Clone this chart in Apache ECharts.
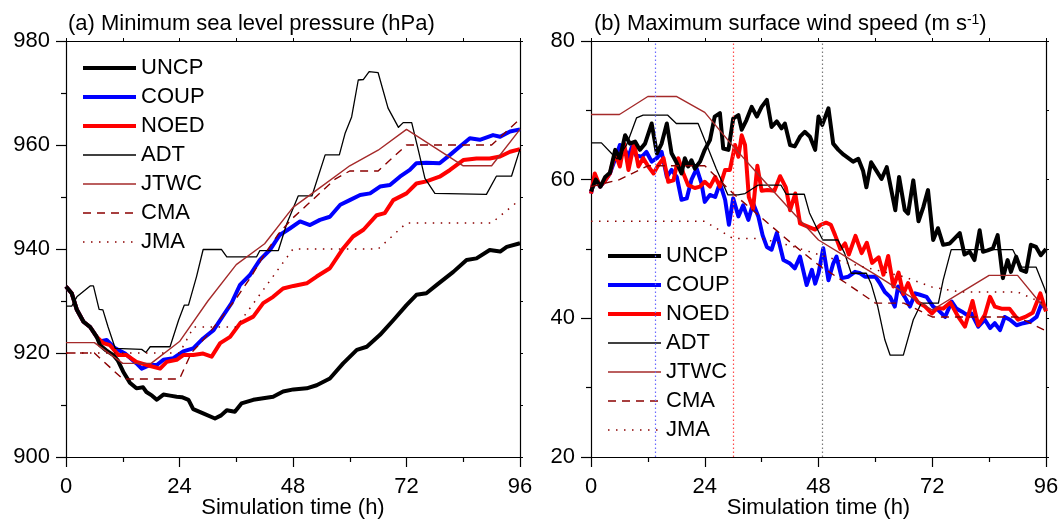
<!DOCTYPE html>
<html>
<head>
<meta charset="utf-8">
<script src="https://cdn.jsdelivr.net/npm/echarts@6/dist/echarts.min.js"></script>
<style>
html,body{margin:0;padding:0;background:#fff;}
#chart{width:1062px;height:522px;}
</style>
</head>
<body>
<div id="chart"></div>
<script>
// ---------------- DATA ----------------
const SERIES_NAMES = ['UNCP','COUP','NOED','ADT','JTWC','CMA','JMA'];
const X_TICKS = [0, 24, 48, 72, 96];
const PRES_TICKS = [900, 920, 940, 960, 980];
const WIND_TICKS = [20, 40, 60, 80];
const TITLE_A = '(a) Minimum sea level pressure (hPa)';
const TITLE_B_MAIN = '(b) Maximum surface wind speed (m s';
const TITLE_B_SUP = '-1';
const X_NAME = 'Simulation time (h)';
// vertical reference times in panel (b): COUP, NOED, UNCP
const VLINE_TIMES = [13.6, 30.0, 48.7];

// Panel (a): minimum sea level pressure (hPa), [hour, value]
const P_UNCP = [[0,932.8],[1.2,931.5],[2.3,928.3],[3.7,926],[5.1,925],[6.5,923.1],[7.2,921.5],[8.5,920.5],[10,919.6],[11,918.5],[12.1,916.4],[13.5,914.3],[14.9,913.2],[16.3,913.4],[17,912.5],[18.2,911.8],[19.2,911],[20.6,912],[22,911.8],[23.4,911.6],[24.5,911.5],[25.9,911],[26.9,909.2],[29,908.4],[31.5,907.4],[32.8,908],[34,909],[35.7,908.7],[37.1,910.3],[39.6,911],[41.7,911.3],[43.8,911.6],[45.9,912.6],[48.1,913],[50.9,913.2],[53,913.8],[55.8,915.1],[58.6,918],[61.5,920.6],[63.6,921.2],[66.4,923.5],[69.2,926.3],[72,929.2],[74.1,931.2],[76.2,931.5],[78.4,933.1],[81.9,935.6],[84.7,937.9],[86.8,938.2],[89.6,939.8],[91.8,939.5],[93.2,940.4],[96,941.1]];
const P_COUP = [[0,932.8],[1.2,931.5],[2.3,928.3],[3.7,926],[5.1,925],[6.5,923.1],[7.2,922.2],[8.6,922.5],[10.4,920.9],[12.5,919.9],[14.9,918],[16,917],[17.8,917.7],[19.2,917.7],[20.6,918.7],[22.7,919],[24.8,920.3],[26.9,920.9],[29,922.8],[31.2,924.4],[33.3,927.3],[35,929.6],[36.8,933.1],[38.9,935],[41,937.9],[43.1,939.8],[45.2,942.7],[47.4,944],[49.5,945.3],[51.6,944.6],[53.7,945.6],[55.8,946.2],[58,948.5],[60,949.4],[62.2,950.4],[64.3,950.7],[66.4,952],[68.5,952.3],[70.6,953.9],[72.7,955.2],[74.1,956.5],[76.2,956.6],[79,956.5],[81.2,958.1],[83.3,959.7],[85.4,961.3],[87.5,961],[90.3,961.9],[91.8,961.6],[93.9,962.6],[96,963]];
const P_NOED = [[0,932.8],[1.2,931.5],[2.3,928.3],[3.7,926],[5.1,925],[6.5,923.1],[7.9,921.9],[9.3,921.5],[11.1,919.6],[12.8,919.6],[14.9,918.3],[17,917.7],[19.9,917],[21.3,918.3],[23.4,918.7],[24.8,919.6],[26.9,919.6],[29,919.9],[30.8,919.3],[32.6,921.9],[34.7,923.1],[36.8,925.7],[39.6,927],[41.7,929.6],[43.8,930.8],[45.9,932.4],[48.1,932.9],[50.9,933.4],[53,934.7],[55.8,936.3],[58.6,940.1],[60.7,942.4],[62.9,943.7],[65.7,946.5],[67.4,946.9],[69.2,949.4],[72,950.7],[74.1,952.6],[76.2,953],[79,953.9],[81.2,955.2],[84,957.1],[86.8,957.4],[89.6,957.4],[91.8,957.8],[93.9,958.7],[96,959.2]];
const P_ADT = [[0,929],[1.2,929],[2.3,930.8],[5.1,932.9],[5.8,932.9],[7,928.4],[7.8,928.3],[8.9,925],[10.4,920.9],[16,920.7],[16.9,920.1],[17.8,921.2],[22,921.2],[23.8,926.3],[25,929.2],[25.9,929.2],[27.6,934.7],[29,939.9],[32.9,939.9],[34,938.5],[40.3,938.5],[41,939.7],[44.9,939.7],[46.7,944.9],[49.1,950.2],[52,950.2],[54.8,958.1],[57.8,958.1],[59,962.2],[60.4,965.4],[61.8,972.5],[62.9,972.6],[64.1,974.1],[66,973.9],[68.1,967.1],[70.3,963.4],[71.3,964.3],[73.1,964.3],[74.5,959],[75.9,953.6],[78,950.7],[88.9,950.5],[91,954],[94.2,954],[96,959.2]];
const P_JTWC = [[0,922],[6,922],[12,918],[18,918],[24,922.2],[30,930],[36,937],[42,941],[48,948],[54,952],[60,956],[66,959],[72,963],[78,959.5],[84,956],[90,956],[96,963]];
const P_CMA = [[0,920],[6,920],[12,915],[18,915],[24,915],[26.5,920],[30,923.5],[33,927],[36,930.5],[39,934.5],[42,939],[45,943],[48,946],[51,948.5],[54,951],[57,953.5],[60,955],[66,955],[72,960],[84,960],[90,960],[96,965]];
const P_JMA = [[0,920],[24,920],[27,925],[36,925],[48,940],[66,940],[72,945],[90,945],[96,949.5]];

// Panel (b): maximum surface wind speed (m/s), [hour, value]
const W_UNCP = [[0,58.3],[1,60],[2,59],[3,60.4],[4,61],[5.1,64.3],[6.1,63.1],[7.2,66.4],[8.2,65.2],[9.3,65.5],[10.3,64.3],[11.4,65.2],[12.8,68.1],[13.9,63.8],[14.9,65.2],[16,68.1],[17,63.8],[18.1,62.4],[19.1,60.9],[19.8,63.1],[20.5,61.9],[21.2,62.8],[21.9,61.6],[23,62.6],[24,64.3],[25.1,65.7],[26.1,69.1],[27.2,69.6],[27.9,64.5],[29,64.3],[30,68.8],[31.1,69.3],[31.8,67.2],[32.8,68.6],[33.9,70.5],[35,69.1],[36,70.5],[37.1,71.5],[38.1,67.6],[39.2,68.4],[40.2,67.4],[40.9,68.1],[42,65],[43,64.8],[44.1,66.2],[45.1,66.9],[46.2,66.2],[47.3,64.3],[48,69.1],[48.8,67.9],[50.1,70.3],[51.1,65.2],[52.2,64.3],[53.3,63.6],[54.3,63.1],[55.3,62.6],[56.4,63],[57.4,61.3],[58.1,58.9],[59.1,62.5],[60.2,61.3],[61.3,60.1],[62.4,61.8],[64.2,55.6],[65,60.4],[66.2,55.6],[66.9,55.1],[68,59.9],[69.1,54],[70.1,56],[71.1,58.5],[72.2,51.3],[73.2,53],[74.3,50.6],[75.7,50.8],[77.8,52.3],[78.8,49.2],[79.9,49.6],[80.9,48.4],[82,52.7],[82.7,49.6],[83.7,49.8],[84.8,50.1],[85.8,52],[86.9,45.8],[87.9,48.4],[88.6,46.7],[89.7,48.9],[90.7,47],[91.8,46.7],[92.8,50.6],[93.9,50.3],[94.9,49.1],[96,50]];
const W_COUP = [[0,58],[0.8,60.5],[1.9,59],[3,59.9],[4,60.9],[5.1,63],[6.1,65],[7,64.5],[7.9,63.3],[8.6,64.7],[9.5,63.5],[10.7,63.3],[11.7,64],[12.8,62.6],[13.9,63.1],[14.9,64],[16,60.4],[17,61.4],[18.1,60.4],[19.1,57.1],[20.2,57.3],[21.2,60],[22.3,61.6],[23.3,59.5],[24,56.8],[25.1,57.8],[26.2,57.5],[27.2,59.5],[28.3,57.1],[29.1,53.5],[30,57.3],[31.1,54.7],[32.1,56.3],[33.2,54.2],[34.2,56.6],[35.3,54.7],[36.2,52],[37.1,50.3],[38.1,49.9],[39.2,52.3],[40.6,48.4],[42,47.9],[43,47.2],[44.1,48.9],[45.5,44.8],[46.6,47],[47.3,45],[48,46.5],[49,50.1],[50.1,45.5],[51.1,47.9],[51.8,48.9],[52.9,45.8],[54.3,46],[55.7,46.7],[56.8,46.5],[57.8,46],[58.9,46],[60,46],[61,45],[62,43.8],[63.1,43.1],[64.1,41.7],[64.8,44.6],[66.2,43.1],[67.3,41.7],[68.4,43.6],[69.4,43.4],[70.8,43.1],[72.2,41.7],[73.3,41.2],[74.7,40.2],[76.1,42.4],[77.1,41.4],[78.2,41],[79.3,40.5],[80.3,40.7],[81.7,38.8],[83.1,39.8],[84.2,38.6],[85.2,39.3],[86.3,38.3],[87.3,40.2],[88.4,39.8],[89.8,39],[91.2,39.3],[92.6,39.5],[94,40.2],[95.1,42.2],[96,41.2]];
const W_NOED = [[0,58],[0.8,60.9],[1.9,59],[3,59.9],[4,60.9],[5.1,63.8],[6.1,61.9],[7,65.2],[7.9,61.4],[9.1,65.2],[10,61.9],[11,63.1],[12.1,61.9],[13.2,60.9],[14.2,62.1],[15.3,63.1],[16.3,59.7],[17.4,59.9],[18.4,63.1],[19.5,60.9],[20.5,59.2],[21.9,58.8],[23,59],[24,59.7],[25.1,59],[26.2,60.4],[27.2,59],[28.3,61.4],[29.3,61.4],[30.4,65],[31.1,63.3],[31.8,66.4],[32.5,65],[33.3,57.5],[34.2,55.8],[35.1,62],[36,58.4],[37.2,58.5],[38.7,58.4],[39.9,60.5],[41.1,58.9],[42,55.6],[43.1,58],[44.1,53.7],[45.5,53.3],[47.3,52.8],[48.5,53.5],[49.6,53.8],[50.6,53.5],[51.5,52],[52.6,50],[53.6,50.8],[54.4,49.2],[55.8,51.9],[57.1,49.4],[58.2,50.9],[59.3,48],[60.7,48.8],[61.7,46.3],[62.7,49],[63.8,44.6],[64.9,46.6],[65.9,43.5],[66.9,45.1],[67.8,43.5],[69,42.3],[70.5,41.7],[71.9,40.7],[73.1,41.5],[74.3,41.4],[75.8,42.3],[77.5,40.2],[78.9,38.8],[80.5,42.5],[81.7,39],[83.1,40.5],[84.2,43.1],[85.2,41.7],[86.6,41.4],[88.3,41.4],[90.1,39.8],[91.6,40.2],[93.2,40.8],[94.8,43.6],[96,41]];
const W_ADT = [[0,65.3],[2.2,65.3],[4.6,63.6],[5.5,63],[7.5,65],[9.6,68.9],[11,69.3],[16.2,69.3],[18,68.1],[22.6,68.1],[24.3,65.2],[26.4,61.6],[28.9,57.8],[31,57.8],[32.5,58],[35.2,59.2],[40.1,59.2],[41.2,57.9],[45,57.9],[46.1,55.2],[47.5,53.2],[48.9,51.3],[52.1,51.3],[53.5,49.4],[54.9,46.5],[58.1,46.5],[59.1,45],[60.5,41.7],[62,36.9],[63.1,34.7],[65.9,34.7],[68,39.8],[69.7,42.2],[73.3,42.2],[74.3,45.5],[76,49.9],[89,49.9],[90.8,47.4],[93.9,47.4],[95.7,44.3],[96,43.6]];
const W_JTWC = [[0,69.4],[6,69.4],[12,72],[18,72],[24,69.7],[30,64.8],[36,60.2],[42,55.7],[48,51.3],[54,48.8],[60,46.3],[66,43.7],[72,41.2],[78,43.7],[84,46.2],[90,46.2],[96,41.2]];
const W_CMA = [[0,59],[6,60],[12,62],[18,62],[24,62],[30,58],[36,54.5],[42,51],[48,47.7],[54,45],[60,42.2],[66,42.2],[72,40.2],[78,40.2],[84,40.2],[90,40.2],[96,38.2]];
const W_JMA = [[0,54],[24,54],[30,51.5],[36,51.5],[42,50.5],[48,49.2],[54,48],[60,47],[66,46],[72,44.5],[78,43.8],[90,43.8],[96,42]];

// ---------------- STYLE ----------------
const FONT = '"Liberation Sans", Arial, Helvetica, sans-serif';
const FS = 22;
const STYLE = {
  UNCP: {color:'#000000', width:4, type:'solid'},
  COUP: {color:'#0000ff', width:4, type:'solid'},
  NOED: {color:'#ff0000', width:4, type:'solid'},
  ADT:  {color:'#000000', width:1.3, type:'solid'},
  JTWC: {color:'#a52a2a', width:1.4, type:'solid'},
  CMA:  {color:'#8b0000', width:1.4, type:[8,6]},
  JMA:  {color:'#8b0000', width:1.5, type:[1.5,6.5]}
};
const VLINE_COLORS = ['#6a6aff', '#ff4a4a', '#7a7a7a'];
const PANEL_A = {UNCP:P_UNCP, COUP:P_COUP, NOED:P_NOED, ADT:P_ADT, JTWC:P_JTWC, CMA:P_CMA, JMA:P_JMA};
const PANEL_B = {UNCP:W_UNCP, COUP:W_COUP, NOED:W_NOED, ADT:W_ADT, JTWC:W_JTWC, CMA:W_CMA, JMA:W_JMA};

function lineSeries(name, data, idx) {
  const s = STYLE[name];
  return {
    name: name, type: 'line', xAxisIndex: idx, yAxisIndex: idx,
    data: data, symbol: 'none', showSymbol: false, smooth: false,
    color: s.color,
    lineStyle: {color: s.color, width: s.width, type: s.type, join: 'round', cap: 'butt'},
    itemStyle: {color: s.color},
    z: 3, silent: true, animation: false
  };
}

function bottomX(gi) {
  return {
    type:'value', gridIndex: gi, min: 0, max: 96, interval: 24, position:'bottom',
    name: X_NAME, nameLocation:'middle', nameGap: 40, nameMoveOverlap: false,
    nameTextStyle:{fontSize: FS, fontFamily: FONT, color:'#000'},
    axisLine:{show:true, onZero:false, lineStyle:{color:'#000', width:1.2}},
    axisTick:{show:true, inside:false, length:10, lineStyle:{color:'#000', width:1.2}},
    minorTick:{show:true, splitNumber:2, length:5, lineStyle:{color:'#000', width:1.2}},
    axisLabel:{show:true, margin:19, fontSize: FS, fontFamily: FONT, color:'#000',
      formatter: v => (X_TICKS.indexOf(v) >= 0 ? String(v) : '')},
    splitLine:{show:false}, minorSplitLine:{show:false}
  };
}
function topX(gi) {
  return {
    type:'value', gridIndex: gi, min: 0, max: 96, interval: 12, position:'top',
    axisLine:{show:true, onZero:false, lineStyle:{color:'#000', width:1.2}},
    axisTick:{show:true, inside:false, length:3, lineStyle:{color:'#000', width:1}},
    axisLabel:{show:false}, splitLine:{show:false}
  };
}
function leftY(gi, min, max, ticks) {
  return {
    type:'value', gridIndex: gi, min: min, max: max, interval: 20, position:'left',
    axisLine:{show:true, onZero:false, lineStyle:{color:'#000', width:1.2}},
    axisTick:{show:true, inside:false, length:10, lineStyle:{color:'#000', width:1.2}},
    minorTick:{show:true, splitNumber:2, length:5, lineStyle:{color:'#000', width:1.2}},
    axisLabel:{show:true, margin:16, fontSize: FS, fontFamily: FONT, color:'#000',
      formatter: v => (ticks.indexOf(v) >= 0 ? String(v) : '')},
    splitLine:{show:false}, minorSplitLine:{show:false}
  };
}
function rightY(gi, min, max) {
  return {
    type:'value', gridIndex: gi, min: min, max: max, interval: 10, position:'right',
    axisLine:{show:true, onZero:false, lineStyle:{color:'#000', width:1.2}},
    axisTick:{show:true, inside:false, length:3, lineStyle:{color:'#000', width:1}},
    axisLabel:{show:false}, splitLine:{show:false}
  };
}

function legendFor(left, top) {
  return {
    show: true, type: 'plain', padding: 0,
    orient:'vertical', left: left, top: top,
    itemWidth: 53, itemHeight: 14, itemGap: 7,
    textStyle:{fontSize: FS, fontFamily: FONT, color:'#000'},
    selectedMode: false,
    data: SERIES_NAMES.map(n => ({
      name: n,
      itemStyle: {opacity: 0, borderWidth: 0},
      lineStyle: {color: STYLE[n].color, width: STYLE[n].width, type: STYLE[n].type}
    }))
  };
}

const series = [];
// reference vertical dotted lines in panel (b)
VLINE_TIMES.forEach((t, i) => {
  series.push({
    name: 'vline' + i, type: 'line', xAxisIndex: 2, yAxisIndex: 2, data: [], silent: true, z: 1,
    markLine: {
      silent: true, symbol: ['none','none'], label:{show:false}, animation:false,
      lineStyle: {color: VLINE_COLORS[i], type: [1.5, 2.5], width: 1.2},
      data: [{xAxis: t}]
    }
  });
});
['COUP','NOED','UNCP','ADT','JTWC','CMA','JMA'].forEach(n => series.push(lineSeries(n, PANEL_A[n], 0)));
['COUP','NOED','UNCP','ADT','JTWC','CMA','JMA'].forEach(n => series.push(lineSeries(n, PANEL_B[n], 2)));

const chart = echarts.init(document.getElementById('chart'), null, {renderer:'canvas'});
chart.setOption({
  animation: false,
  backgroundColor: '#fff',
  textStyle: {fontFamily: FONT},
  title: [
    {text: TITLE_A, left: 63, top: 8,
     textStyle:{fontSize: FS, fontWeight:'normal', fontFamily: FONT, color:'#000'}},
    {text: TITLE_B_MAIN + '{sup|' + TITLE_B_SUP + '})', left: 589, top: 8,
     textStyle:{fontSize: FS, fontWeight:'normal', fontFamily: FONT, color:'#000',
       rich:{sup:{fontSize:14, fontFamily: FONT, color:'#000', verticalAlign:'top', lineHeight: 22}}}}
  ],
  legend: [legendFor(81, 57), legendFor(606, 245)],
  grid: [
    {left: 66, top: 41, width: 454, height: 416, containLabel: false, outerBoundsMode: 'none'},
    {left: 591, top: 41, width: 455, height: 416, containLabel: false, outerBoundsMode: 'none'}
  ],
  xAxis: [bottomX(0), topX(0), bottomX(1), topX(1)],
  yAxis: [leftY(0, 900, 980, PRES_TICKS), rightY(0, 900, 980), leftY(1, 20, 80, WIND_TICKS), rightY(1, 20, 80)],
  series: series
});
</script>
</body>
</html>
